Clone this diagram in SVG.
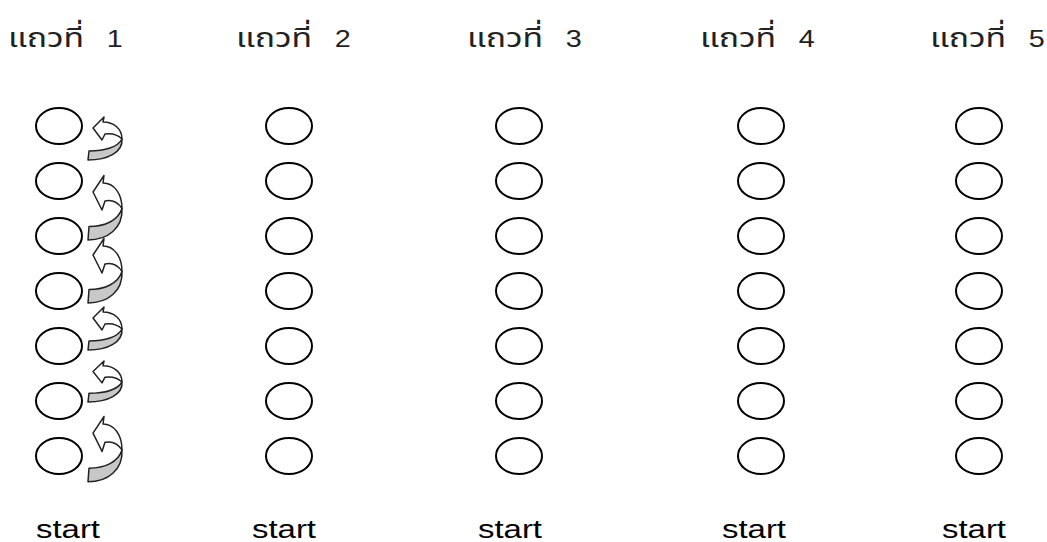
<svg xmlns="http://www.w3.org/2000/svg" xmlns:xlink="http://www.w3.org/1999/xlink" width="1047" height="542" viewBox="0 0 1047 542">
<style>
.node{fill:#fff;stroke:#000;stroke-width:2}
.hd{font-family:"Noto Sans Thai","Noto Sans","DejaVu Sans",sans-serif;font-size:27px;fill:#222}
.num{font-family:"Liberation Sans",Arial,sans-serif;font-size:23px}
.st{font-family:"Liberation Sans",Arial,sans-serif;font-size:25.5px;fill:#000}
.aw{fill:#fff;stroke:#222;stroke-width:1.5;stroke-linejoin:round}
.ag{fill:#c8c8c8;stroke:#222;stroke-width:1.5;stroke-linejoin:round}
</style>
<defs>
<g id="arr">
<path class="aw" vector-effect="non-scaling-stroke" d="M93,10 L104,-1 L103,4 C114,4 122,11 122,21 C118,17 112,15 105,16 L102,22 Z"/>
<path class="ag" vector-effect="non-scaling-stroke" d="M122,21 C123,34 108,42 88,42 L89,33 C105,33 118,29 122,21 Z"/>
</g>
</defs>
<rect width="1047" height="542" fill="#fff"/>
<g id="headers">
<text class="hd" transform="translate(8,47) scale(1.25,1)">แถวที่<tspan class="num" x="79">1</tspan></text>
<text class="hd" transform="translate(236,47) scale(1.25,1)">แถวที่<tspan class="num" x="79">2</tspan></text>
<text class="hd" transform="translate(467,47) scale(1.25,1)">แถวที่<tspan class="num" x="79">3</tspan></text>
<text class="hd" transform="translate(700,47) scale(1.25,1)">แถวที่<tspan class="num" x="79">4</tspan></text>
<text class="hd" transform="translate(930,47) scale(1.25,1)">แถวที่<tspan class="num" x="79">5</tspan></text>
</g>
<g id="col1">
<ellipse id="c1r1" class="node" cx="59" cy="126" rx="23" ry="18"/>
<ellipse id="c1r2" class="node" cx="59" cy="181" rx="23" ry="18"/>
<ellipse id="c1r3" class="node" cx="59" cy="236" rx="23" ry="18"/>
<ellipse id="c1r4" class="node" cx="59" cy="291" rx="23" ry="18"/>
<ellipse id="c1r5" class="node" cx="59" cy="346" rx="23" ry="18"/>
<ellipse id="c1r6" class="node" cx="59" cy="401" rx="23" ry="18"/>
<ellipse id="c1r7" class="node" cx="59" cy="456" rx="23" ry="18"/>
</g>
<g id="col2">
<ellipse id="c2r1" class="node" cx="289" cy="126" rx="23" ry="18"/>
<ellipse id="c2r2" class="node" cx="289" cy="181" rx="23" ry="18"/>
<ellipse id="c2r3" class="node" cx="289" cy="236" rx="23" ry="18"/>
<ellipse id="c2r4" class="node" cx="289" cy="291" rx="23" ry="18"/>
<ellipse id="c2r5" class="node" cx="289" cy="346" rx="23" ry="18"/>
<ellipse id="c2r6" class="node" cx="289" cy="401" rx="23" ry="18"/>
<ellipse id="c2r7" class="node" cx="289" cy="456" rx="23" ry="18"/>
</g>
<g id="col3">
<ellipse id="c3r1" class="node" cx="519" cy="126" rx="23" ry="18"/>
<ellipse id="c3r2" class="node" cx="519" cy="181" rx="23" ry="18"/>
<ellipse id="c3r3" class="node" cx="519" cy="236" rx="23" ry="18"/>
<ellipse id="c3r4" class="node" cx="519" cy="291" rx="23" ry="18"/>
<ellipse id="c3r5" class="node" cx="519" cy="346" rx="23" ry="18"/>
<ellipse id="c3r6" class="node" cx="519" cy="401" rx="23" ry="18"/>
<ellipse id="c3r7" class="node" cx="519" cy="456" rx="23" ry="18"/>
</g>
<g id="col4">
<ellipse id="c4r1" class="node" cx="761" cy="126" rx="23" ry="18"/>
<ellipse id="c4r2" class="node" cx="761" cy="181" rx="23" ry="18"/>
<ellipse id="c4r3" class="node" cx="761" cy="236" rx="23" ry="18"/>
<ellipse id="c4r4" class="node" cx="761" cy="291" rx="23" ry="18"/>
<ellipse id="c4r5" class="node" cx="761" cy="346" rx="23" ry="18"/>
<ellipse id="c4r6" class="node" cx="761" cy="401" rx="23" ry="18"/>
<ellipse id="c4r7" class="node" cx="761" cy="456" rx="23" ry="18"/>
</g>
<g id="col5">
<ellipse id="c5r1" class="node" cx="979" cy="126" rx="23" ry="18"/>
<ellipse id="c5r2" class="node" cx="979" cy="181" rx="23" ry="18"/>
<ellipse id="c5r3" class="node" cx="979" cy="236" rx="23" ry="18"/>
<ellipse id="c5r4" class="node" cx="979" cy="291" rx="23" ry="18"/>
<ellipse id="c5r5" class="node" cx="979" cy="346" rx="23" ry="18"/>
<ellipse id="c5r6" class="node" cx="979" cy="401" rx="23" ry="18"/>
<ellipse id="c5r7" class="node" cx="979" cy="456" rx="23" ry="18"/>
</g>
<g id="connectors">
<use xlink:href="#arr" href="#arr" transform="translate(0,118)"/>
<use xlink:href="#arr" href="#arr" transform="translate(0,177) scale(1,1.5)"/>
<use xlink:href="#arr" href="#arr" transform="translate(0,240) scale(1,1.5)"/>
<use xlink:href="#arr" href="#arr" transform="translate(0,308)"/>
<use xlink:href="#arr" href="#arr" transform="translate(0,362) scale(1,0.95)"/>
<use xlink:href="#arr" href="#arr" transform="translate(0,418) scale(1,1.52)"/>
</g>
<g id="labels">
<text class="st" x="36" y="538" textLength="64" lengthAdjust="spacingAndGlyphs">start</text>
<text class="st" x="252" y="538" textLength="64" lengthAdjust="spacingAndGlyphs">start</text>
<text class="st" x="478" y="538" textLength="64" lengthAdjust="spacingAndGlyphs">start</text>
<text class="st" x="722" y="538" textLength="64" lengthAdjust="spacingAndGlyphs">start</text>
<text class="st" x="942" y="538" textLength="64" lengthAdjust="spacingAndGlyphs">start</text>
</g>
</svg>
